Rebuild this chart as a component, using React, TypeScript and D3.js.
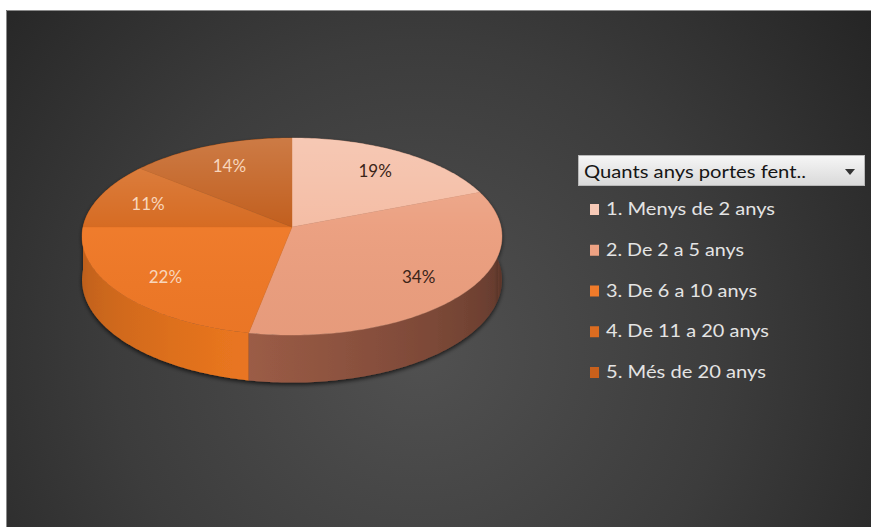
import React from "react";
import * as d3 from "d3";

const categories = [
  "1. Menys de 2 anys",
  "2. De 2 a 5 anys",
  "3. De 6 a 10 anys",
  "4. De 11 a 20 anys",
  "5. Més de 20 anys",
];
const values = [19, 34, 22, 11, 14];
const labels = ["19%", "34%", "22%", "11%", "14%"];
const legendTitle = "Quants anys portes fent..";

const topColors = ["#f4bba2", "#eb9e7e", "#ef7826", "#d5671c", "#c05a17"];
const sideColors = ["#b8765c", "#9c5c46", "#ea7620", "#c9621c", "#b4561a"];
const markerColors = ["#f6c9b6", "#eea283", "#f07b2a", "#dc6c20", "#c8601c"];
const labelColors = ["#3a2418", "#3a2418", "#f8d6bc", "#f8d6bc", "#f8d6bc"];
const legendWidths = [169, 138, 151, 163, 160];

const W = 871, H = 527;
const CX = 292, CY = 227, RX = 209, RY = 97.6, P = 0.0965, DEPTH = 43;

function proj(a: number, f = 1): [number, number] {
  const u = f * Math.sin(a);
  const v = -f * Math.cos(a);
  const s = 1 / (1 - P * v);
  return [CX + RX * u * s, CY + RY * v * s];
}
function depthAt(a: number) {
  const v = -Math.cos(a);
  return DEPTH / (1 - P * v);
}
function shade(color: string, k: number) {
  const c = d3.rgb(color);
  return d3.rgb(c.r * k, c.g * k, c.b * k).formatHex();
}
function shadeK(a: number) {
  const deg = (a * 180) / Math.PI;
  const peak = 192;
  if (deg <= peak) return 1 - 0.42 * Math.min(1, Math.max(0, (peak - deg) / 102));
  return 1 - 0.22 * Math.min(1, (deg - peak) / 78);
}

export default function App() {
  const arcs = d3.pie<number>().sort(null).value((d) => d)(values);

  const sides = arcs.map((arc, i) => {
    const n = 120;
    const top: [number, number][] = [];
    const bot: [number, number][] = [];
    for (let j = 0; j <= n; j++) {
      const a = arc.startAngle + ((arc.endAngle - arc.startAngle) * j) / n;
      const p = proj(a);
      top.push(p);
      bot.push([p[0], p[1] + depthAt(a)]);
    }
    const path = d3.path();
    top.forEach((p, j) => (j === 0 ? path.moveTo(p[0], p[1]) : path.lineTo(p[0], p[1])));
    for (let j = bot.length - 1; j >= 0; j--) path.lineTo(bot[j][0], bot[j][1]);
    path.closePath();
    // gradient along x, sampled on visible front range
    const lo = Math.max(arc.startAngle, Math.PI * 0.47);
    const hi = Math.min(arc.endAngle, Math.PI * 1.53);
    const stops: { o: number; c: string }[] = [];
    let x1 = 0, x2 = 1;
    if (hi > lo) {
      const samples = d3.range(0, 21).map((k) => lo + ((hi - lo) * k) / 20);
      const xs = samples.map((a) => proj(a)[0]);
      x1 = d3.min(xs) as number;
      x2 = d3.max(xs) as number;
      if (x2 - x1 < 1) x2 = x1 + 1;
      samples.forEach((a, k) =>
        stops.push({ o: (xs[k] - x1) / (x2 - x1), c: shade(sideColors[i], shadeK(a)) })
      );
      stops.sort((a, b) => a.o - b.o);
    } else {
      stops.push({ o: 0, c: shade(sideColors[i], 0.6) }, { o: 1, c: shade(sideColors[i], 0.6) });
    }
    const maxV = d3.max(d3.range(0, 41).map((k) => -Math.cos(arc.startAngle + ((arc.endAngle - arc.startAngle) * k) / 40))) as number;
    return { d: path.toString(), stops, x1, x2, maxV, i };
  });
  const sideOrder = [...sides].sort((a, b) => a.maxV - b.maxV);

  const line = d3.line<[number, number]>();
  const tops = arcs.map((arc) => {
    const n = Math.max(8, Math.ceil(((arc.endAngle - arc.startAngle) / (2 * Math.PI)) * 360));
    const pts: [number, number][] = [[CX, CY]];
    for (let j = 0; j <= n; j++) {
      const a = arc.startAngle + ((arc.endAngle - arc.startAngle) * j) / n;
      pts.push(proj(a));
    }
    return line(pts) + "Z";
  });

  const legendY = d3.scalePoint<string>().domain(categories).range([209, 372]);

  return (
    <svg
      width={W}
      height={H}
      style={{ position: "fixed", left: 0, top: 0, display: "block" }}
      fontFamily="Lato, 'Open Sans', sans-serif"
    >
      <defs>
        <radialGradient id="bg" gradientUnits="userSpaceOnUse" cx={420} cy={350} r={560}>
          <stop offset="0" stopColor="#515151" />
          <stop offset="0.55" stopColor="#3c3c3c" />
          <stop offset="1" stopColor="#252525" />
        </radialGradient>
        <linearGradient id="gloss" gradientUnits="userSpaceOnUse" x1={0} y1={138} x2={0} y2={336}>
          <stop offset="0" stopColor="#ffffff" stopOpacity={0.2} />
          <stop offset="0.45" stopColor="#ffffff" stopOpacity={0.03} />
          <stop offset="1" stopColor="#000000" stopOpacity={0.02} />
        </linearGradient>
        <linearGradient id="hdr" x1="0" y1="0" x2="0" y2="1">
          <stop offset="0" stopColor="#f6f6f6" />
          <stop offset="1" stopColor="#d9d9d9" />
        </linearGradient>
        {sides.map((s) => (
          <linearGradient
            key={s.i}
            id={"side" + s.i}
            gradientUnits="userSpaceOnUse"
            x1={s.x1}
            y1={0}
            x2={s.x2}
            y2={0}
          >
            {s.stops.map((st, k) => (
              <stop key={k} offset={st.o} stopColor={st.c} />
            ))}
          </linearGradient>
        ))}
        <filter id="shadow" x="-10%" y="-10%" width="120%" height="130%">
          <feDropShadow dx="0" dy="2" stdDeviation="2" floodColor="#000" floodOpacity="0.7" />
        </filter>
      </defs>
      <rect x={0} y={0} width={W} height={H} fill="#ffffff" />
      <rect x={6} y={10} width={W - 6} height={H - 10} fill="url(#bg)" />
      <path d={`M6.5,${H}V10.5H${W}`} fill="none" stroke="#8a8a8a" strokeWidth={1} />

      <g filter="url(#shadow)">
        {sideOrder.map((s) => (
          <path key={s.i} d={s.d} fill={`url(#side${s.i})`} />
        ))}
      </g>
      {tops.map((d, i) => (
        <path key={i} d={d} fill={topColors[i]} stroke={topColors[i]} strokeWidth={0.4} />
      ))}
      {tops.map((d, i) => (
        <path key={"g" + i} d={d} fill="url(#gloss)" />
      ))}

      {arcs.map((arc, i) => {
        const [x, y] = proj((arc.startAngle + arc.endAngle) / 2, 0.75);
        return (
          <text
            key={i}
            x={x}
            y={y}
            dy="0.4em"
            textAnchor="middle"
            fontSize={17}
            fill={labelColors[i]}
          >
            {labels[i]}
          </text>
        );
      })}

      <rect x={578.5} y={155.5} width={286} height={30} fill="url(#hdr)" stroke="#b8b8b8" />
      <text x={584} y={178} fontSize={17} fill="#151515" textLength={222} lengthAdjust="spacingAndGlyphs">
        {legendTitle}
      </text>
      <path d="M845,169L855,169L850,175Z" fill="#333" />

      {categories.map((c, i) => {
        const cy = legendY(c) as number;
        return (
          <g key={c}>
            <rect x={590} y={cy - 5} width={9} height={11} fill={markerColors[i]} />
            <text
              x={606}
              y={cy + 6}
              fontSize={17}
              fill="#e4e4e4"
              textLength={legendWidths[i]}
              lengthAdjust="spacingAndGlyphs"
            >
              {c}
            </text>
          </g>
        );
      })}
    </svg>
  );
}
